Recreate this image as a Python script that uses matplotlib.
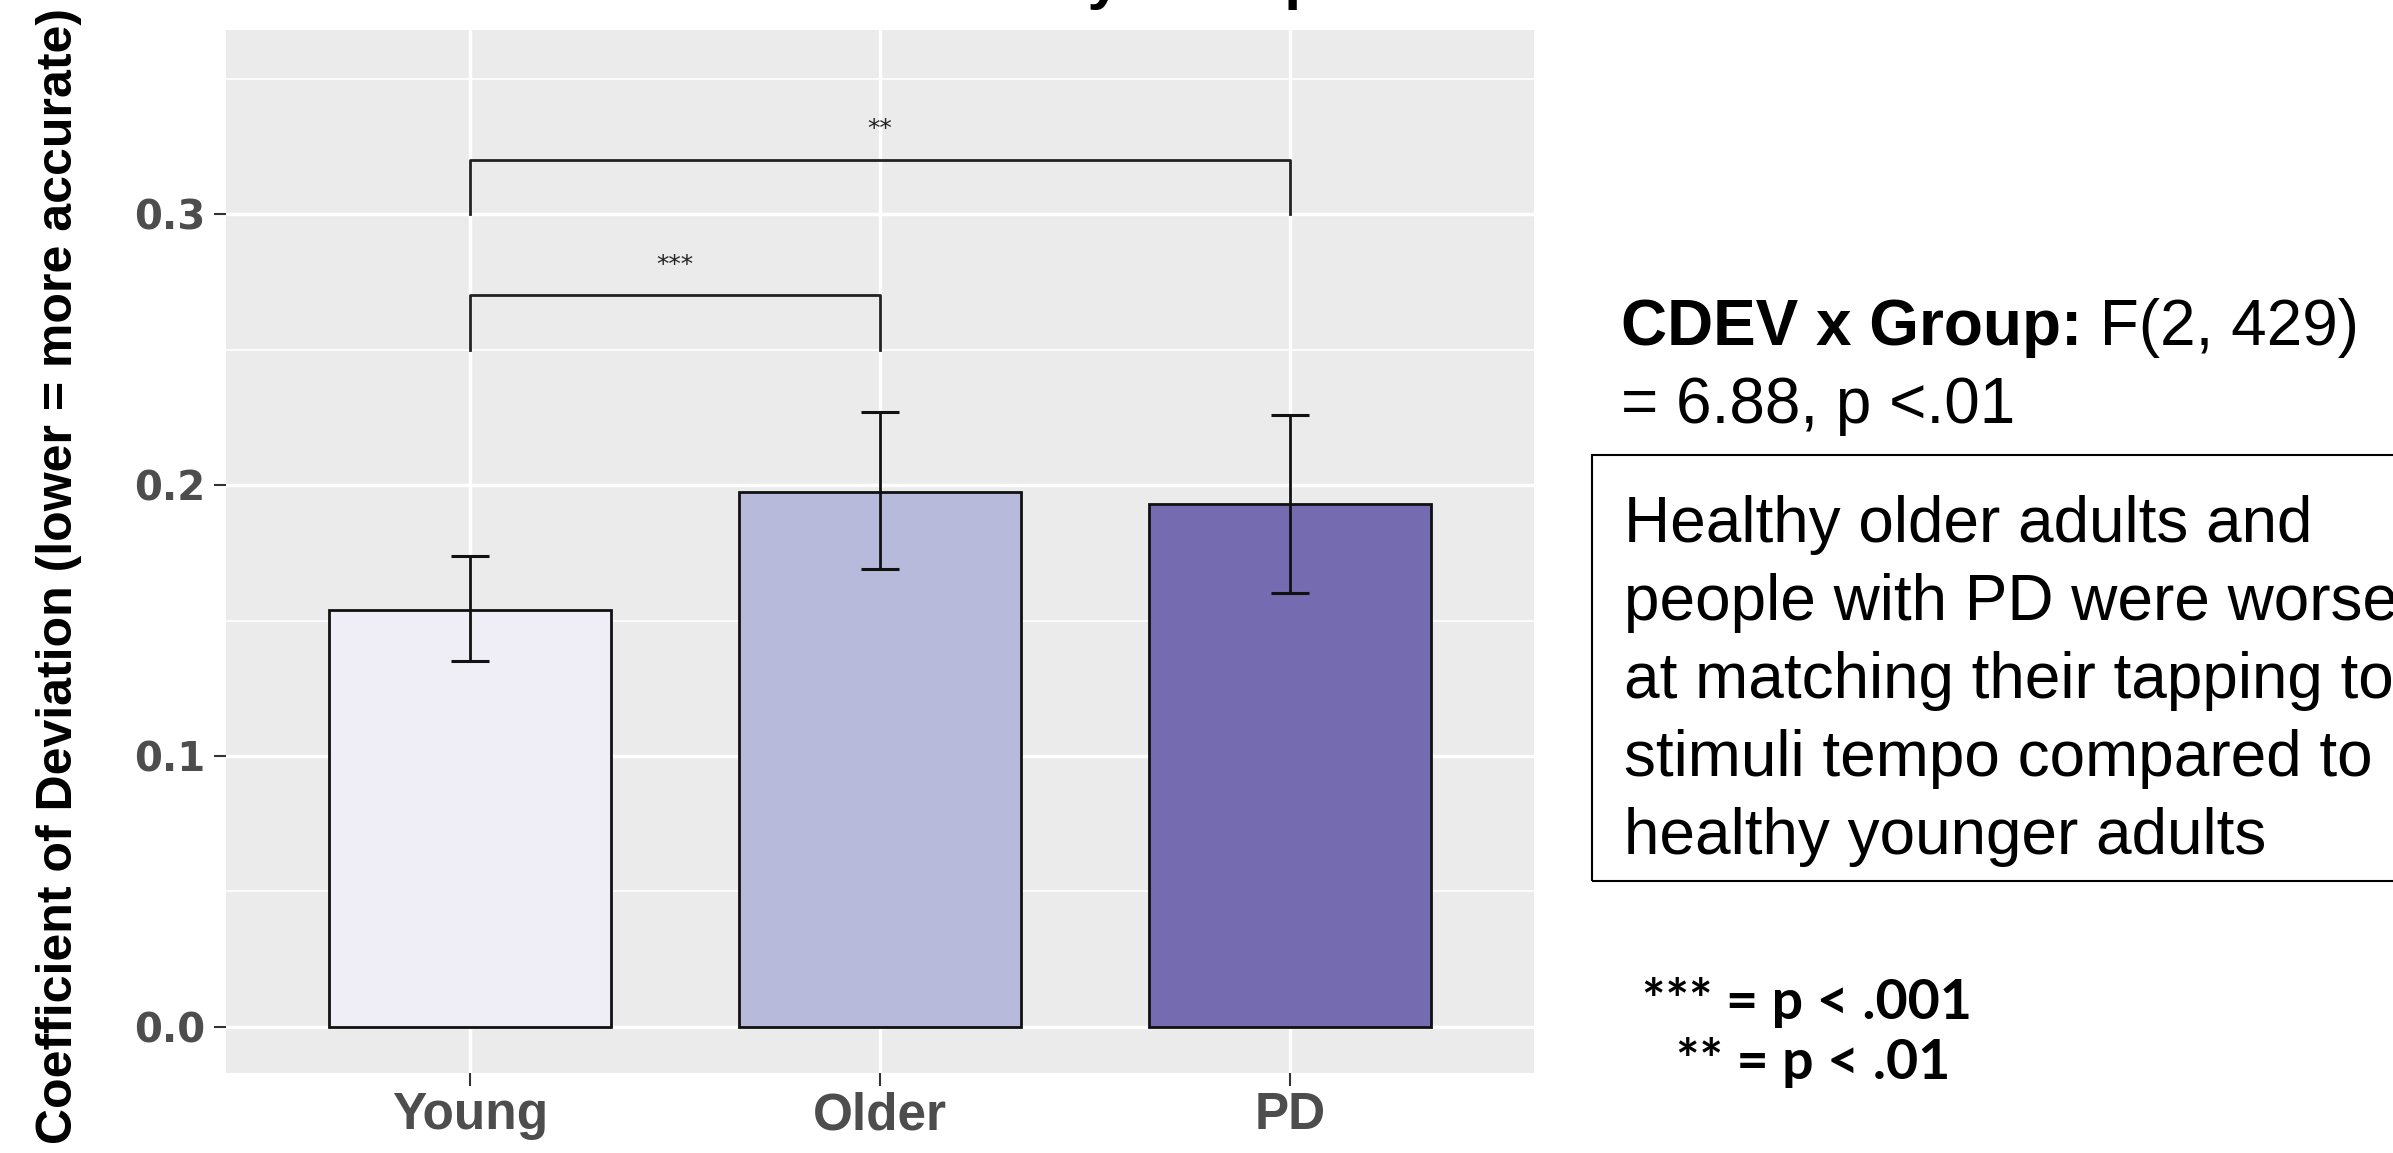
import matplotlib
matplotlib.use("Agg")
import matplotlib.pyplot as plt
from matplotlib.patches import Rectangle

# data
groups = ['Young', 'Older', 'PD']
means = [0.154, 0.1975, 0.193]
lower = [0.135, 0.169, 0.160]
upper = [0.174, 0.227, 0.226]
colors = ['#EFEDF5', '#B8BADB', '#756BB1']
# significance brackets: (left group, right group, height, label)
brackets = [(0, 1, 0.27, '***'), (0, 2, 0.32, '**')]
yticks = [0.0, 0.1, 0.2, 0.3]
ytick_labels = ['0.0', '0.1', '0.2', '0.3']

W, H = 2393, 1153
fig = plt.figure(figsize=(W / 100, H / 100), dpi=100)

# plot panel
ax = fig.add_axes([226 / W, 1 - 1073 / H, (1534 - 226) / W, (1073 - 30) / H])
ax.set_facecolor('#EBEBEB')
for s in ax.spines.values():
    s.set_visible(False)

x = list(range(len(groups)))
yerr = [[m - l for m, l in zip(means, lower)], [u - m for m, u in zip(means, upper)]]
ax.bar(x, means, width=0.69, color=colors, edgecolor='#111111', linewidth=2, zorder=3)
ax.errorbar(x, means, yerr=yerr, fmt='none', ecolor='#111111', elinewidth=2,
            capsize=14, capthick=2.2, zorder=4)

for i, j, h, lab in brackets:
    ax.plot([i, i, j, j], [h - 0.02, h, h, h - 0.02], color='#222222', lw=2, zorder=4)
    ax.text((i + j) / 2, h + 0.007, lab, ha='center', va='bottom', fontsize=18,
            color='#222222', zorder=4)

ax.set_xlim(-0.595, 2.595)
ax.set_ylim(-0.017, 0.368)
ax.set_xticks(x)
ax.set_xticklabels(groups, fontfamily='Liberation Sans', fontweight='bold',
                   fontsize=37, color='#4D4D4D')
ax.set_yticks(yticks)
ax.set_yticklabels(ytick_labels, fontfamily='DejaVu Sans', fontweight='bold',
                   fontsize=29, color='#4D4D4D')
ax.set_yticks([0.05, 0.15, 0.25, 0.35], minor=True)
ax.tick_params(which='major', length=9, width=1.5, color='#333333')
ax.tick_params(axis='x', pad=4)
ax.tick_params(axis='y', pad=6)
ax.tick_params(which='minor', length=0)
ax.grid(which='major', color='white', lw=2.5, zorder=0)
ax.grid(which='minor', axis='y', color='white', lw=1.2, zorder=0)
ax.set_axisbelow(True)

ax.set_ylabel('Coefficient of Deviation (lower = more accurate)',
              fontfamily='Liberation Sans', fontweight='bold', fontsize=36,
              color='black')
ax.yaxis.set_label_coords(82 / W, 0.5, transform=fig.transFigure)

# title, mostly cut off by the top edge
fig.text(1322 / W, 1 + 3 / H, 'Coefficient of Deviation by Group', ha='right',
         va='baseline', fontfamily='Liberation Sans', fontweight='bold',
         fontsize=44, color='black')

# right-hand annotations
fs = 46
t1 = fig.text(1621 / W, 1 - 345 / H, 'CDEV x Group:', fontfamily='Liberation Sans',
              fontweight='bold', fontsize=fs, va='baseline', ha='left')
r = fig.canvas.get_renderer()
x1 = t1.get_window_extent(r).x1
fig.text(x1 / W, 1 - 345 / H, ' F(2, 429)', fontfamily='Liberation Sans',
         fontsize=fs, va='baseline', ha='left')
fig.text(1621 / W, 1 - 423 / H, '= 6.88, p <.01', fontfamily='Liberation Sans',
         fontsize=fs, va='baseline', ha='left')

box_lines = ['Healthy older adults and',
             'people with PD were worse',
             'at matching their tapping to',
             'stimuli tempo compared to',
             'healthy younger adults']
for k, line in enumerate(box_lines):
    fig.text(1624 / W, 1 - (542 + 78 * k) / H, line, fontfamily='Liberation Sans',
             fontsize=fs, va='baseline', ha='left')
fig.patches.append(Rectangle((1592 / W, 1 - 881 / H), 0.5, (881 - 455) / H,
                             transform=fig.transFigure, fill=False,
                             edgecolor='black', lw=1.5))

fig.text(1807 / W, 1 - 1019 / H, '*** = p < .001', fontfamily='Lato',
         fontweight='bold', fontsize=40, ha='center', va='baseline')
fig.text(1813 / W, 1 - 1079 / H, '** = p < .01', fontfamily='Lato',
         fontweight='bold', fontsize=40, ha='center', va='baseline')

fig.savefig('out.png', dpi=100)
